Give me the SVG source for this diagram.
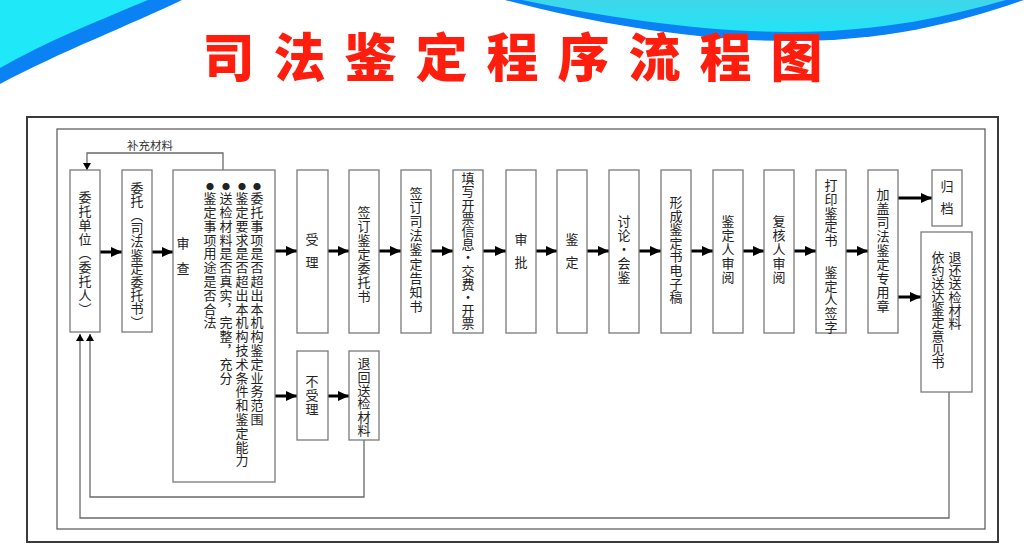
<svg xmlns="http://www.w3.org/2000/svg" width="1024" height="555" viewBox="0 0 1024 555">
<defs>
<style>
.box{fill:#fff;stroke:#7a7a7a;stroke-width:1.3}
.v{writing-mode:vertical-rl;text-orientation:upright;font-family:"Noto Sans CJK SC","Noto Sans CJK JP",sans-serif;font-size:13px;fill:#222;text-anchor:middle}
.vs{text-anchor:start}
.bul{font-size:8px}
.thick{stroke:#000;stroke-width:3;fill:none}
.thin{stroke:#6a6a6a;stroke-width:1.3;fill:none}
.lbl{font-family:"Noto Sans CJK SC",sans-serif;font-size:11.5px;fill:#333;text-anchor:middle}
</style>
<marker id="ah" markerUnits="userSpaceOnUse" markerWidth="12" markerHeight="10" refX="11" refY="5" orient="auto"><path d="M0,0 L11,5 L0,10 Z" fill="#000"/></marker>
<marker id="as" markerUnits="userSpaceOnUse" markerWidth="8" markerHeight="8" refX="7" refY="4" orient="auto"><path d="M0,0 L7,4 L0,8 Z" fill="#000"/></marker>
<linearGradient id="cy" x1="0" y1="0" x2="0" y2="1"><stop offset="0" stop-color="#3fd6ea"/><stop offset="1" stop-color="#22e4f6"/></linearGradient>
</defs>
<rect width="1024" height="555" fill="#fff"/>
<g id="background">
<path d="M0,0 L182,0 C130,25 60,52 0,84 Z" fill="#0a82f3"/>
<path d="M0,0 L148,0 C100,20 45,42 0,68 Z" fill="#1fe8f8"/>
<path d="M505,0 C600,25 700,41 790,41 C890,41 960,22 1024,0 Z" fill="#0a82f3"/>
<path d="M522,0 C610,18 705,32 790,32 C885,32 952,15 1006,0 Z" fill="url(#cy)"/>
</g>
<text id="title" x="522" y="77" font-family="'Noto Sans CJK SC',sans-serif" font-size="52" font-weight="900" fill="#ff1e0e" text-anchor="middle" letter-spacing="19">司法鉴定程序流程图</text>
<g id="frames">
<rect x="27" y="117" width="971" height="425" fill="none" stroke="#3a3a3a" stroke-width="2"/>
<rect x="57" y="129" width="928" height="400" fill="none" stroke="#555" stroke-width="1.2"/>
</g>
<g id="connectors">
<line class="thick" x1="100" y1="252" x2="122" y2="252" marker-end="url(#ah)"/>
<line class="thick" x1="152" y1="252" x2="173" y2="252" marker-end="url(#ah)"/>
<line class="thick" x1="275" y1="251" x2="297" y2="251" marker-end="url(#ah)"/>
<line class="thick" x1="328" y1="251" x2="349" y2="251" marker-end="url(#ah)"/>
<line class="thick" x1="379" y1="251" x2="401" y2="251" marker-end="url(#ah)"/>
<line class="thick" x1="431" y1="251" x2="453" y2="251" marker-end="url(#ah)"/>
<line class="thick" x1="483" y1="251" x2="506" y2="251" marker-end="url(#ah)"/>
<line class="thick" x1="536" y1="251" x2="557" y2="251" marker-end="url(#ah)"/>
<line class="thick" x1="587" y1="251" x2="609" y2="251" marker-end="url(#ah)"/>
<line class="thick" x1="639" y1="251" x2="661" y2="251" marker-end="url(#ah)"/>
<line class="thick" x1="691" y1="251" x2="713" y2="251" marker-end="url(#ah)"/>
<line class="thick" x1="743" y1="251" x2="764" y2="251" marker-end="url(#ah)"/>
<line class="thick" x1="794" y1="251" x2="816" y2="251" marker-end="url(#ah)"/>
<line class="thick" x1="846" y1="251" x2="868" y2="251" marker-end="url(#ah)"/>
<line class="thick" x1="898" y1="198" x2="932" y2="198" marker-end="url(#ah)"/>
<line class="thick" x1="898" y1="297" x2="921" y2="297" marker-end="url(#ah)"/>
<line class="thick" x1="275" y1="396" x2="297" y2="396" marker-end="url(#ah)"/>
<line class="thick" x1="328" y1="396" x2="349" y2="396" marker-end="url(#ah)"/>
<polyline class="thin" points="223,170 223,153 87,153 87,170" marker-end="url(#as)"/>
<text class="lbl" x="150" y="150">补充材料</text>
<polyline class="thin" points="364,440 364,497 90,497 90,334" marker-end="url(#as)"/>
<polyline class="thin" points="949,392 949,518 80,518 80,334" marker-end="url(#as)"/>
</g>
<g id="n-weituodanwei"><rect class="box" x="70" y="170" width="30" height="162"/><text class="v" x="85" y="254" letter-spacing="1">委托单位（委托人）</text></g>
<g id="n-weituo"><rect class="box" x="122" y="170" width="30" height="162"/><text class="v" x="137" y="255" letter-spacing="0.4">委托（司法鉴定委托书）</text></g>
<g id="n-shencha"><rect class="box" x="173" y="170" width="102" height="312"/>
<text class="v" x="183" y="262" letter-spacing="12">审查</text>
<text class="v vs" x="257" y="183" letter-spacing="0.8"><tspan class="bul">●</tspan>委托事项是否超出本机构鉴定业务范围</text>
<text class="v vs" x="242" y="183" letter-spacing="0.8"><tspan class="bul">●</tspan>鉴定要求是否超出本机构技术条件和鉴定能力</text>
<text class="v vs" x="226" y="183" letter-spacing="0.8"><tspan class="bul">●</tspan>送检材料是否真实，完整，充分</text>
<text class="v vs" x="210" y="183" letter-spacing="0.8"><tspan class="bul">●</tspan>鉴定事项用途是否合法</text>
</g>
<g id="n-shouli"><rect class="box" x="297" y="170" width="31" height="163"/><text class="v" x="312" y="256" letter-spacing="10">受理</text></g>
<g id="n-qiandingweituo"><rect class="box" x="349" y="170" width="30" height="163"/><text class="v" x="364" y="255" letter-spacing="1">签订鉴定委托书</text></g>
<g id="n-gaozhi"><rect class="box" x="401" y="170" width="30" height="163"/><text class="v" x="416" y="250" letter-spacing="1.2">签订司法鉴定告知书</text></g>
<g id="n-kaipiao"><rect class="box" x="453" y="170" width="30" height="163"/><text class="v" x="468" y="251" letter-spacing="0.2">填写开票信息·交费·开票</text></g>
<g id="n-shenpi"><rect class="box" x="506" y="170" width="30" height="163"/><text class="v" x="521" y="256" letter-spacing="10">审批</text></g>
<g id="n-jianding"><rect class="box" x="557" y="170" width="30" height="163"/><text class="v" x="572" y="256" letter-spacing="10">鉴定</text></g>
<g id="n-taolun"><rect class="box" x="609" y="170" width="30" height="163"/><text class="v" x="624" y="250" letter-spacing="1">讨论·会鉴</text></g>
<g id="n-dianzigao"><rect class="box" x="661" y="170" width="30" height="163"/><text class="v" x="676" y="250" letter-spacing="0.6">形成鉴定书电子稿</text></g>
<g id="n-jiandingren"><rect class="box" x="713" y="170" width="30" height="163"/><text class="v" x="728" y="250" letter-spacing="1">鉴定人审阅</text></g>
<g id="n-fuheren"><rect class="box" x="764" y="170" width="30" height="163"/><text class="v" x="779" y="250" letter-spacing="1">复核人审阅</text></g>
<g id="n-dayin"><rect class="box" x="816" y="170" width="30" height="163"/><text class="v vs" x="831" letter-spacing="0.8"><tspan y="178.5">打印鉴定书</tspan><tspan y="251.5"> 鉴定人签字</tspan></text></g>
<g id="n-gaizhang"><rect class="box" x="868" y="170" width="30" height="163"/><text class="v" x="883" y="251" letter-spacing="1">加盖司法鉴定专用章</text></g>
<g id="n-guidang"><rect class="box" x="932" y="170" width="30" height="56"/><text class="v" x="947" y="202" letter-spacing="9">归档</text></g>
<g id="n-songda"><rect class="box" x="921" y="232" width="51" height="160"/><text class="v vs" x="955" y="250.5" letter-spacing="0.2">退还送检材料</text><text class="v vs" x="938" y="250.5" letter-spacing="0.1">依约送达鉴定意见书</text></g>
<g id="n-bushouli"><rect class="box" x="297" y="351" width="31" height="89"/><text class="v" x="312" y="396" letter-spacing="1">不受理</text></g>
<g id="n-tuihui"><rect class="box" x="349" y="351" width="30" height="89"/><text class="v" x="364" y="397" letter-spacing="0.4">退回送检材料</text></g>
</svg>
